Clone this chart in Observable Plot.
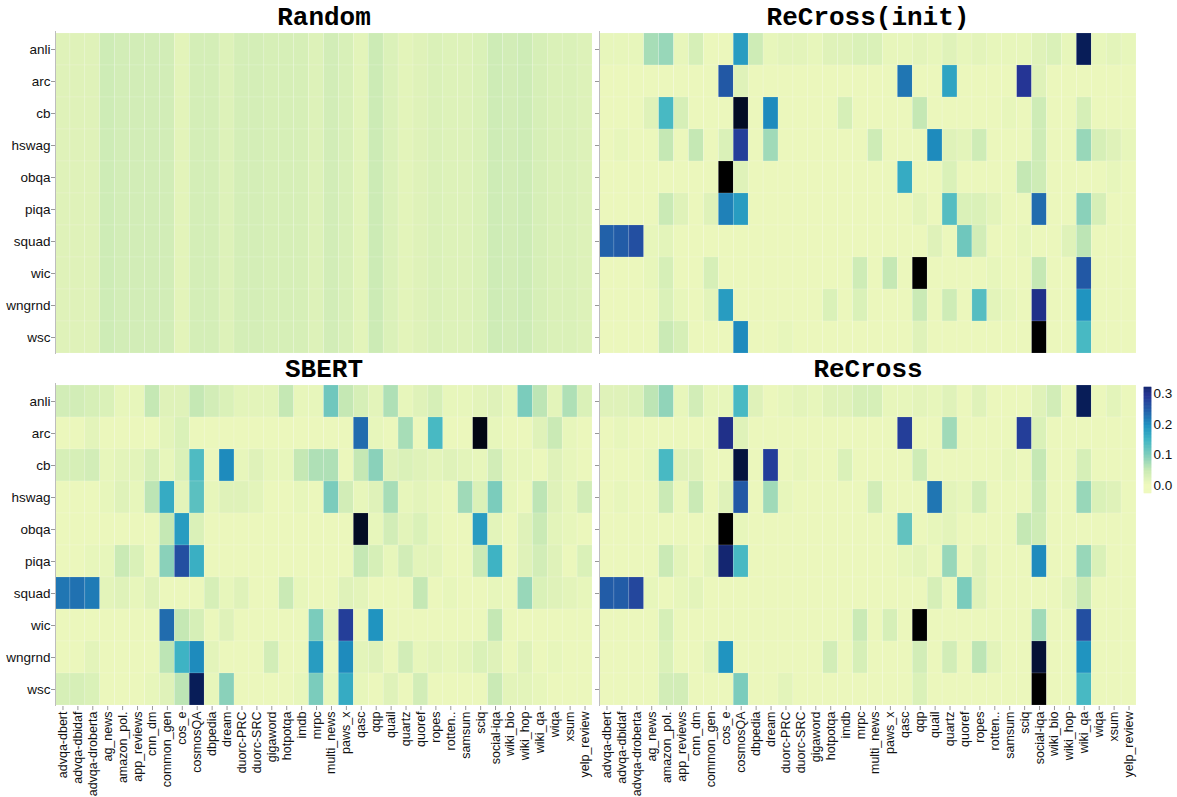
<!DOCTYPE html>
<html><head><meta charset="utf-8">
<script src="https://cdn.jsdelivr.net/npm/d3@7"></script>
<script src="https://cdn.jsdelivr.net/npm/@observablehq/plot@0.6"></script>
<style>
body{margin:0;background:#fff;}
#wrap{position:relative;width:1177px;height:797px;overflow:hidden;background:#fff;}
</style></head><body><div id="wrap"></div>
<script>
const rows = ["anli","arc","cb","hswag","obqa","piqa","squad","wic","wngrnd","wsc"];
const tasks = ["advqa-dbert","advqa-dbidaf","advqa-droberta","ag_news","amazon_pol.","app_reviews","cnn_dm","common_gen","cos_e","cosmosQA","dbpedia","dream","duorc-PRC","duorc-SRC","gigaword","hotpotqa","imdb","mrpc","multi_news","paws_x","qasc","qqp","quail","quartz","quoref","ropes","rotten..","samsum","sciq","social-iqa","wiki_bio","wiki_hop","wiki_qa","wiqa","xsum","yelp_review"];
const colorTicks = [0, 0.1, 0.2, 0.3];

// Random: every query task gets the same share per upstream task (column stripes)
const randomByTask = [0.02,0.02,0.02,0.04,0.035,0.035, 0.035,0.035,0.015,0.033,0.033,0.022, 0.033,0.033,0.03,0.03,0.03,0.022, 0.035,0.028,0.015,0.042,0.024,0.015, 0.02,0.025,0.022,0.022,0.025,0.04, 0.035,0.04,0.03,0.025,0.025,0.022];
const randomVals = rows.map(() => randomByTask);

const recrossInitVals = [
 [0.01,0.01,0.01,0.07,0.08,0.01, 0.03,0.005,0.005,0.18,0.04,0.01, 0.015,0.015,0.01,0.02,0.02,0.025, 0.025,0.01,0.01,0.015,0.01,0.02, 0.01,0.015,0.01,0.01,0.01,0.02, 0.025,0.01,0.34,0.01,0.015,0.01],
 [0.005,0.005,0.005,0.005,0.005,0.005, 0.005,0.005,0.25,0.02,0.005,0.005, 0.005,0.005,0.005,0.005,0.005,0.005, 0.005,0.005,0.22,0.005,0.005,0.17, 0.005,0.005,0.005,0.005,0.29,0.02, 0.005,0.005,0.005,0.005,0.005,0.005],
 [0.005,0.005,0.005,0.02,0.14,0.03, 0.005,0.005,0.005,0.40,0.005,0.20, 0.005,0.005,0.005,0.005,0.03,0.005, 0.005,0.005,0.005,0.05,0.005,0.005, 0.005,0.005,0.005,0.01,0.005,0.04, 0.005,0.005,0.03,0.005,0.005,0.005],
 [0.005,0.01,0.005,0.005,0.05,0.005, 0.05,0.005,0.025,0.28,0.005,0.075, 0.005,0.005,0.005,0.005,0.005,0.005, 0.04,0.005,0.005,0.005,0.20,0.02, 0.015,0.04,0.005,0.005,0.005,0.04, 0.005,0.005,0.08,0.03,0.02,0.01],
 [0.005,0.005,0.005,0.005,0.005,0.005, 0.005,0.005,0.45,0.02,0.005,0.005, 0.005,0.005,0.005,0.005,0.005,0.005, 0.005,0.005,0.16,0.005,0.005,0.025, 0.005,0.005,0.005,0.005,0.05,0.04, 0.005,0.005,0.005,0.005,0.01,0.005],
 [0.005,0.005,0.005,0.005,0.045,0.02, 0.005,0.02,0.21,0.18,0.005,0.005, 0.005,0.005,0.005,0.005,0.005,0.005, 0.005,0.005,0.005,0.015,0.005,0.13, 0.025,0.025,0.015,0.005,0.005,0.23, 0.005,0.005,0.09,0.03,0.005,0.005],
 [0.24,0.245,0.26,0.01,0.015,0.005, 0.005,0.005,0.005,0.005,0.005,0.005, 0.005,0.005,0.005,0.005,0.005,0.005, 0.005,0.005,0.005,0.005,0.02,0.005, 0.11,0.035,0.005,0.005,0.01,0.005, 0.005,0.02,0.055,0.005,0.005,0.005],
 [0.005,0.005,0.005,0.01,0.03,0.005, 0.005,0.03,0.005,0.005,0.005,0.005, 0.005,0.005,0.005,0.005,0.005,0.04, 0.005,0.05,0.005,0.45,0.005,0.005, 0.005,0.005,0.01,0.005,0.005,0.05, 0.005,0.005,0.25,0.005,0.005,0.005],
 [0.005,0.005,0.005,0.005,0.025,0.01, 0.005,0.015,0.18,0.005,0.005,0.005, 0.005,0.005,0.005,0.025,0.005,0.025, 0.005,0.005,0.005,0.045,0.005,0.04, 0.005,0.13,0.015,0.01,0.005,0.30, 0.005,0.005,0.19,0.005,0.005,0.005],
 [0.005,0.005,0.005,0.005,0.045,0.03, 0.005,0.005,0.005,0.20,0.005,0.005, 0.01,0.005,0.005,0.005,0.005,0.005, 0.005,0.005,0.005,0.02,0.005,0.005, 0.005,0.005,0.005,0.005,0.005,0.45, 0.005,0.005,0.14,0.005,0.005,0.005]
];

const sbertVals = [
 [0.035,0.035,0.03,0.025,0.01,0.01, 0.05,0.02,0.02,0.05,0.035,0.025, 0.015,0.015,0.015,0.05,0.01,0.01, 0.11,0.05,0.03,0.015,0.065,0.01, 0.02,0.03,0.01,0.01,0.015,0.02, 0.01,0.10,0.055,0.015,0.065,0.025],
 [0.005,0.005,0.015,0.005,0.005,0.005, 0.005,0.015,0.025,0.005,0.005,0.005, 0.005,0.005,0.005,0.005,0.005,0.005, 0.005,0.005,0.23,0.01,0.005,0.07, 0.005,0.14,0.005,0.005,0.42,0.01, 0.005,0.005,0.02,0.045,0.01,0.005],
 [0.03,0.03,0.035,0.01,0.015,0.015, 0.03,0.01,0.025,0.135,0.005,0.20, 0.01,0.02,0.01,0.01,0.05,0.065, 0.065,0.005,0.05,0.09,0.02,0.025, 0.02,0.015,0.02,0.015,0.01,0.035, 0.01,0.01,0.005,0.02,0.01,0.005],
 [0.005,0.005,0.005,0.01,0.02,0.01, 0.055,0.16,0.015,0.125,0.01,0.02, 0.02,0.015,0.005,0.005,0.01,0.005, 0.10,0.035,0.01,0.02,0.07,0.01, 0.015,0.01,0.005,0.075,0.025,0.10, 0.01,0.005,0.055,0.02,0.01,0.035],
 [0.005,0.005,0.005,0.005,0.005,0.005, 0.005,0.05,0.18,0.025,0.005,0.005, 0.005,0.005,0.005,0.005,0.005,0.005, 0.005,0.005,0.40,0.01,0.035,0.015, 0.025,0.01,0.005,0.005,0.18,0.015, 0.005,0.02,0.045,0.015,0.01,0.005],
 [0.005,0.005,0.01,0.01,0.045,0.025, 0.005,0.09,0.26,0.155,0.005,0.005, 0.005,0.005,0.005,0.005,0.005,0.005, 0.005,0.005,0.05,0.03,0.01,0.035, 0.015,0.015,0.005,0.005,0.045,0.15, 0.005,0.02,0.035,0.02,0.005,0.025],
 [0.22,0.225,0.215,0.015,0.02,0.01, 0.02,0.005,0.005,0.005,0.03,0.01, 0.02,0.005,0.005,0.045,0.01,0.005, 0.005,0.02,0.015,0.005,0.005,0.005, 0.05,0.005,0.01,0.005,0.005,0.01, 0.005,0.08,0.025,0.02,0.015,0.01],
 [0.005,0.005,0.005,0.005,0.005,0.005, 0.005,0.23,0.05,0.03,0.005,0.02, 0.005,0.005,0.005,0.005,0.005,0.10, 0.015,0.28,0.005,0.19,0.005,0.005, 0.005,0.005,0.005,0.005,0.005,0.05, 0.005,0.005,0.005,0.005,0.005,0.005],
 [0.005,0.005,0.015,0.005,0.005,0.005, 0.005,0.055,0.15,0.20,0.015,0.005, 0.005,0.005,0.035,0.005,0.005,0.18, 0.005,0.20,0.015,0.02,0.005,0.035, 0.01,0.015,0.01,0.015,0.025,0.02, 0.005,0.02,0.005,0.01,0.005,0.005],
 [0.03,0.03,0.025,0.005,0.005,0.005, 0.01,0.02,0.055,0.34,0.01,0.09, 0.005,0.005,0.005,0.005,0.01,0.10, 0.01,0.16,0.01,0.005,0.02,0.005, 0.035,0.005,0.005,0.005,0.005,0.045, 0.015,0.015,0.01,0.005,0.005,0.005]
];

const recrossVals = [
 [0.02,0.02,0.025,0.055,0.085,0.01, 0.035,0.01,0.01,0.14,0.02,0.005, 0.01,0.015,0.01,0.02,0.02,0.03, 0.03,0.01,0.01,0.015,0.01,0.02, 0.005,0.02,0.005,0.005,0.005,0.02, 0.035,0.005,0.34,0.005,0.015,0.005],
 [0.005,0.01,0.005,0.005,0.005,0.005, 0.005,0.005,0.30,0.02,0.005,0.005, 0.005,0.005,0.005,0.005,0.005,0.005, 0.005,0.005,0.28,0.005,0.005,0.075, 0.005,0.005,0.005,0.005,0.28,0.025, 0.005,0.005,0.005,0.005,0.005,0.005],
 [0.005,0.005,0.005,0.01,0.14,0.02, 0.02,0.005,0.005,0.37,0.005,0.28, 0.005,0.01,0.005,0.005,0.025,0.005, 0.005,0.005,0.005,0.04,0.005,0.005, 0.005,0.005,0.005,0.01,0.005,0.05, 0.005,0.005,0.03,0.005,0.005,0.005],
 [0.005,0.01,0.005,0.005,0.045,0.005, 0.045,0.005,0.02,0.25,0.005,0.075, 0.01,0.005,0.005,0.005,0.005,0.005, 0.035,0.005,0.005,0.005,0.22,0.015, 0.01,0.035,0.005,0.005,0.005,0.045, 0.005,0.005,0.08,0.025,0.02,0.005],
 [0.005,0.005,0.005,0.005,0.005,0.005, 0.005,0.005,0.45,0.01,0.005,0.005, 0.005,0.005,0.005,0.005,0.005,0.005, 0.005,0.005,0.12,0.005,0.01,0.015, 0.005,0.005,0.005,0.005,0.05,0.04, 0.005,0.005,0.005,0.005,0.005,0.005],
 [0.005,0.005,0.005,0.005,0.045,0.015, 0.005,0.015,0.32,0.14,0.005,0.005, 0.005,0.005,0.005,0.005,0.005,0.005, 0.005,0.005,0.01,0.015,0.005,0.08, 0.005,0.02,0.005,0.005,0.005,0.20, 0.005,0.005,0.08,0.025,0.005,0.005],
 [0.245,0.245,0.27,0.01,0.005,0.01, 0.015,0.005,0.005,0.005,0.005,0.005, 0.005,0.005,0.005,0.005,0.005,0.005, 0.005,0.005,0.005,0.005,0.03,0.005, 0.10,0.02,0.005,0.005,0.005,0.005, 0.005,0.015,0.045,0.005,0.005,0.005],
 [0.005,0.005,0.005,0.005,0.03,0.005, 0.005,0.005,0.005,0.005,0.005,0.005, 0.005,0.005,0.005,0.005,0.005,0.045, 0.005,0.03,0.005,0.45,0.005,0.005, 0.005,0.005,0.005,0.005,0.005,0.075, 0.005,0.005,0.26,0.005,0.005,0.005],
 [0.005,0.005,0.005,0.005,0.025,0.005, 0.005,0.015,0.19,0.005,0.005,0.005, 0.005,0.005,0.005,0.035,0.005,0.03, 0.005,0.005,0.005,0.035,0.005,0.035, 0.005,0.055,0.015,0.005,0.005,0.38, 0.005,0.005,0.19,0.005,0.005,0.005],
 [0.005,0.005,0.005,0.005,0.035,0.035, 0.005,0.005,0.005,0.10,0.005,0.005, 0.015,0.005,0.005,0.005,0.005,0.005, 0.005,0.005,0.005,0.025,0.005,0.005, 0.005,0.005,0.005,0.005,0.005,0.45, 0.005,0.005,0.14,0.005,0.005,0.005]
];

// YlGnBu-like ramp; values above the domain keep darkening toward black
const stops = ["#eff9bd","#c7e9b4","#7fcdbb","#41b6c4","#1d91c0","#225ea8","#253494","#081d58"];
const ramp = d3.piecewise(d3.interpolateRgb, stops);
const toBlack = d3.interpolateRgb(stops[stops.length - 1], "#000000");
const interp = t => t <= 0 ? stops[0] : (t <= 1 ? ramp(t) : toBlack(Math.min(1, (t - 1) / 0.3)));
const colorScale = () => ({type: "linear", domain: [0, 0.34], interpolate: interp, clamp: false});

const FONT = "'Liberation Sans', Arial, Helvetica, sans-serif";
const TITLE_FONT = "'Liberation Mono', 'Courier New', monospace";
const wrap = document.getElementById("wrap");

function panel(title, matrix, {left, top, width, height, mL, mT, mB, showY, showX}) {
  const data = [];
  rows.forEach((r, i) => tasks.forEach((c, j) => data.push({row: r, task: c, value: matrix[i][j]})));
  const bw = (width - mL) / tasks.length;
  const svg = Plot.plot({
    width, height,
    marginLeft: mL, marginRight: 0, marginTop: mT, marginBottom: mB,
    style: {fontFamily: FONT, fontSize: "13.5px", background: "transparent", color: "#111", overflow: "visible"},
    x: {domain: tasks, padding: 0, axis: null},
    y: {domain: rows, padding: 0, axis: null},
    color: colorScale(),
    marks: [
      Plot.cell(data, {x: "task", y: "row", fill: "value", stroke: "#ffffff", strokeOpacity: 0.22, strokeWidth: 0.6}),
      Plot.ruleX([tasks[0]], {x: d => d, dx: -bw / 2, stroke: "#bdbdbd", strokeWidth: 1}),
      Plot.axisY({tickSize: 4, tickPadding: 1, stroke: "#999", fill: "#111", label: null,
                  tickFormat: showY ? (d => d) : (() => ""), fontSize: 13.5}),
      showX ? Plot.axisX({anchor: "bottom", tickSize: 4, tickPadding: 1, tickRotate: -90, stroke: "#999",
                          fill: "#111", label: null, fontSize: 12.5}) : null,
      Plot.text([title], {text: d => d, frameAnchor: "top", dy: -7, lineAnchor: "bottom",
                          fontFamily: TITLE_FONT, fontWeight: "bold", fontSize: 26, fill: "#000"})
    ]
  });
  svg.style.position = "absolute";
  svg.style.left = left + "px";
  svg.style.top = top + "px";
  wrap.appendChild(svg);
}

panel("Random", randomVals, {left: 0, top: 0, width: 592, height: 354, mL: 55, mT: 31, mB: 0, showY: true, showX: false});
panel("ReCross(init)", recrossInitVals, {left: 592, top: 0, width: 544, height: 354, mL: 7, mT: 31, mB: 0, showY: false, showX: false});
panel("SBERT", sbertVals, {left: 0, top: 354, width: 592, height: 443, mL: 55, mT: 29, mB: 91, showY: true, showX: true});
panel("ReCross", recrossVals, {left: 592, top: 354, width: 544, height: 443, mL: 7, mT: 29, mB: 91, showY: false, showX: true});

// vertical colour bar
const step = 0.0025, legendMin = -0.026, legendMax = 0.32;
const legendVals = d3.range(legendMin, legendMax, step);
const leg = Plot.plot({
  width: 60, height: 120, marginLeft: 4, marginRight: 49, marginTop: 7, marginBottom: 7,
  style: {fontFamily: FONT, fontSize: "13.5px", background: "transparent", color: "#111", overflow: "visible"},
  x: {domain: [0, 1], axis: null},
  y: {domain: [legendMin, legendMax], axis: null},
  color: colorScale(),
  marks: [
    Plot.rect(legendVals, {x1: 0, x2: 1, y1: d => d, y2: d => Math.min(legendMax, d + step), fill: d => d, stroke: d => d, strokeWidth: 0.6}),
    Plot.axisY({anchor: "right", ticks: colorTicks, tickFormat: ".1f", tickSize: 0, tickPadding: 2, label: null, fill: "#111", fontSize: 13.5})
  ]
});
leg.style.position = "absolute";
leg.style.left = "1140px";
leg.style.top = "380px";
wrap.appendChild(leg);
</script></body></html>
